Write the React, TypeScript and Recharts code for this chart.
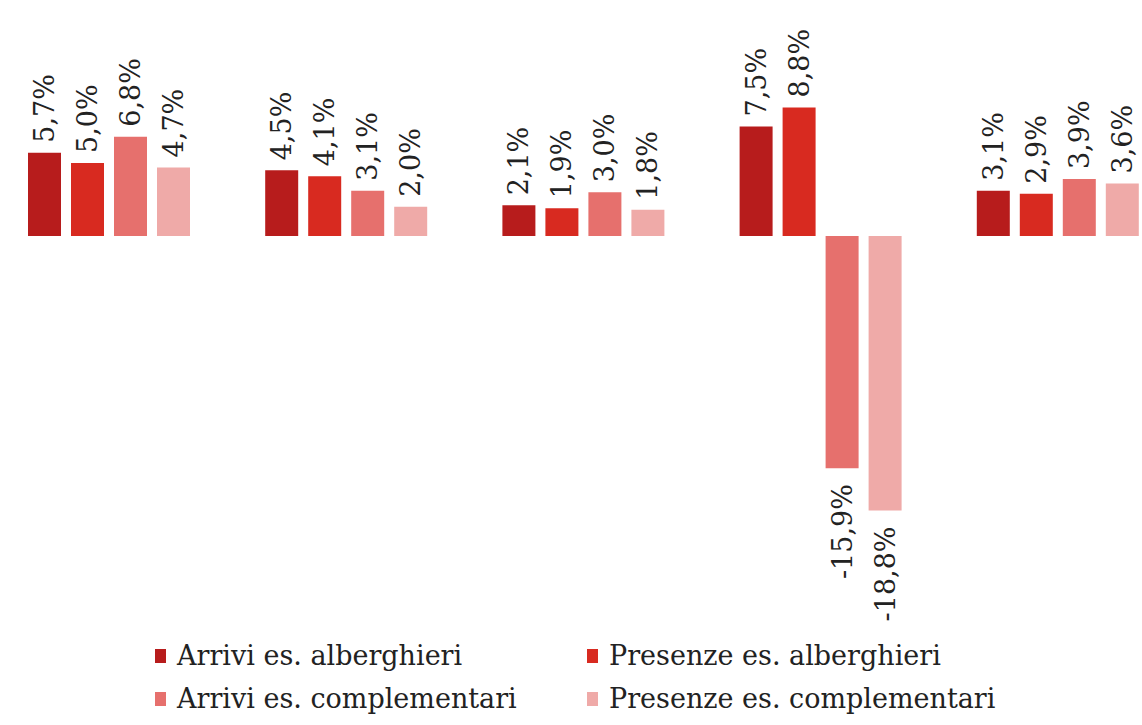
import { BarChart, Bar, XAxis, YAxis, LabelList } from 'recharts';

const groups = ['A', 'B', 'C', 'D', 'E'];
const arriviAlberghieri = [5.7, 4.5, 2.1, 7.5, 3.1];
const presenzeAlberghieri = [5.0, 4.1, 1.9, 8.8, 2.9];
const arriviComplementari = [6.8, 3.1, 3.0, -15.9, 3.9];
const presenzeComplementari = [4.7, 2.0, 1.8, -18.8, 3.6];

const series = [
  { key: 'aa', name: 'Arrivi es. alberghieri', color: '#b71c1c', values: arriviAlberghieri },
  { key: 'pa', name: 'Presenze es. alberghieri', color: '#d82a20', values: presenzeAlberghieri },
  { key: 'ac', name: 'Arrivi es. complementari', color: '#e6706d', values: arriviComplementari },
  { key: 'pc', name: 'Presenze es. complementari', color: '#efaaa8', values: presenzeComplementari },
];

const data = groups.map((g, i) => {
  const row: Record<string, string | number> = { group: g };
  series.forEach((s) => (row[s.key] = s.values[i]));
  return row;
});

const fmt = (v: number) => v.toFixed(1).replace('.', ',') + '%';

const ValueLabel = (props: any) => {
  const { x, y, width, height, value } = props;
  const cx = x + width / 2;
  const top = Math.min(y, y + height);
  const bottom = Math.max(y, y + height);
  const neg = value < 0;
  const ly = neg ? bottom + 16 : top - 10;
  return (
    <text
      x={cx}
      y={ly}
      transform={`rotate(-90, ${cx}, ${ly})`}
      textAnchor={neg ? 'end' : 'start'}
      dominantBaseline="central"
      fontFamily="DejaVu Serif"
      fontSize={27}
      fill="#222"
    >
      {fmt(value)}
    </text>
  );
};

export default function App() {
  return (
    <div style={{ position: 'absolute', left: 0, top: 0, width: 1142, height: 725, overflow: 'hidden', background: '#fff' }}>
      <div style={{ position: 'absolute', left: -10, top: 0 }}>
        <BarChart
          width={1186}
          height={725}
          data={data}
          margin={{ top: 90, right: 0, left: 0, bottom: 197 }}
          barSize={33}
          barGap={10}
        >
          <XAxis dataKey="group" hide />
          <YAxis hide domain={[-20, 10]} />
          {series.map((s) => (
            <Bar key={s.key} dataKey={s.key} name={s.name} fill={s.color} isAnimationActive={false}>
              <LabelList dataKey={s.key} content={ValueLabel} />
            </Bar>
          ))}
        </BarChart>
      </div>
      <div
        style={{
          position: 'absolute',
          left: 155,
          top: 639,
          display: 'grid',
          gridTemplateColumns: '432px 440px',
          rowGap: 9,
          fontFamily: 'DejaVu Serif',
          fontSize: 27,
          color: '#222',
          lineHeight: '34px',
        }}
      >
        {series.map((s) => (
          <div key={s.key} style={{ display: 'flex', alignItems: 'center', whiteSpace: 'nowrap' }}>
            <span style={{ display: 'inline-block', width: 11, height: 14, background: s.color, marginRight: 11 }} />
            {s.name}
          </div>
        ))}
      </div>
    </div>
  );
}
